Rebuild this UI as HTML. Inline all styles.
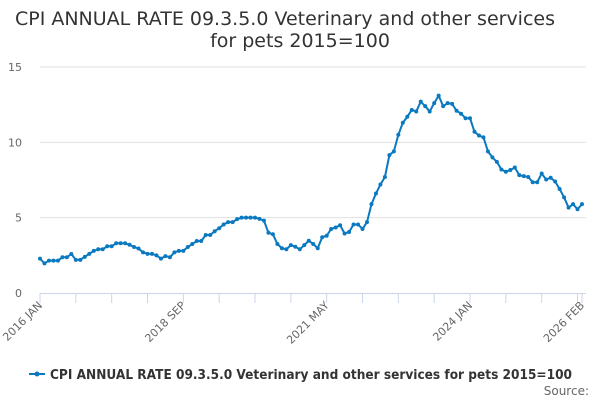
<!DOCTYPE html>
<html><head><meta charset="utf-8"><style>
body{margin:0;background:#fff;width:600px;height:400px;overflow:hidden;font-family:"DejaVu Sans","Liberation Sans",sans-serif}
</style></head><body>
<svg id="chart" width="600" height="400" xmlns="http://www.w3.org/2000/svg" font-family="DejaVu Sans, Liberation Sans, sans-serif">
<text x="285" y="25" text-anchor="middle" font-size="19" fill="#333" textLength="540" lengthAdjust="spacingAndGlyphs">CPI ANNUAL RATE 09.3.5.0 Veterinary and other services</text>
<text x="300" y="47" text-anchor="middle" font-size="19" fill="#333">for pets 2015=100</text>
<g id="grid"></g><g id="xaxis"></g><g id="series"></g>
<g>
<line x1="29" y1="374" x2="45" y2="374" stroke="#0a79bf" stroke-width="2"/>
<circle cx="37" cy="374" r="2.5" fill="#0a79bf"/>
<text x="50" y="379" font-size="13" font-weight="bold" fill="#333" textLength="522" lengthAdjust="spacingAndGlyphs">CPI ANNUAL RATE 09.3.5.0 Veterinary and other services for pets 2015=100</text>
</g>
<text x="589" y="395" text-anchor="end" font-size="12" fill="#666">Source:</text>
</svg>
<script>
const yTicks=[0,5,10,15];
const xTickLabels=["2016 JAN","2018 SEP","2021 MAY","2024 JAN","2026 FEB"];
const xTickMonths=[0,32,64,96,121];
const values=[2.28,1.97,2.15,2.15,2.15,2.37,2.37,2.59,2.2,2.2,2.4,2.6,2.8,2.9,2.9,3.1,3.1,3.3,3.3,3.3,3.2,3.05,2.95,2.7,2.6,2.6,2.5,2.28,2.45,2.37,2.7,2.8,2.8,3.05,3.25,3.45,3.45,3.85,3.85,4.1,4.3,4.55,4.7,4.7,4.9,5.0,5.0,5.0,5.0,4.92,4.8,4.0,3.9,3.25,2.97,2.9,3.18,3.07,2.9,3.18,3.47,3.25,2.97,3.7,3.8,4.25,4.35,4.5,3.95,4.05,4.55,4.55,4.25,4.7,5.9,6.6,7.2,7.7,9.15,9.4,10.5,11.3,11.7,12.15,12.05,12.7,12.4,12.05,12.6,13.1,12.4,12.6,12.55,12.1,11.9,11.6,11.6,10.7,10.45,10.33,9.4,9.0,8.7,8.2,8.05,8.16,8.33,7.82,7.76,7.7,7.35,7.35,7.93,7.53,7.65,7.4,6.9,6.35,5.67,5.9,5.56,5.9];
const X0=40,X1=582,Y0=293,Y15=67;
const xs=m=>X0+(X1-X0)*m/(values.length-1);
const ys=v=>Y0-(Y0-Y15)*v/15;
const NS="http://www.w3.org/2000/svg";
function mk(t,a,p){const e=document.createElementNS(NS,t);for(const k in a)e.setAttribute(k,a[k]);p.appendChild(e);return e;}
const grid=document.getElementById('grid'),xa=document.getElementById('xaxis'),se=document.getElementById('series');
yTicks.forEach(v=>{
  if(v>0){const l=mk('line',{x1:X0,x2:586,y1:ys(v),y2:ys(v),stroke:'#e0e0e0','stroke-width':1},grid);
  
  }
  const t=mk('text',{x:22,y:ys(v)+4,'text-anchor':'end','font-size':11,fill:'#666'},grid);t.textContent=v;
  
  
});
const ax=mk('line',{x1:X0,x2:586,y1:Y0+0.5,y2:Y0+0.5,stroke:'#ccd6eb','stroke-width':1},xa);


for(let m=0;m<=121;m+=8){mk('line',{x1:xs(m),x2:xs(m),y1:Y0,y2:Y0+10,stroke:'#ccd6eb'},xa);}
mk('line',{x1:xs(121),x2:xs(121),y1:Y0,y2:Y0+10,stroke:'#ccd6eb'},xa);
xTickLabels.forEach((s,i)=>{const x=xs(xTickMonths[i])+3,y=Y0+13;
  const t=mk('text',{x:x,y:y,'text-anchor':'end','font-size':11,fill:'#666',transform:`rotate(-45 ${x} ${y})`},xa);t.textContent=s;
  
  });
const line=mk('polyline',{points:values.map((v,i)=>xs(i)+','+ys(v)).join(' '),fill:'none',stroke:'#0a79bf','stroke-width':2,'stroke-linejoin':'round'},se);


values.forEach((v,i)=>{const c=mk('circle',{cx:xs(i),cy:ys(v),r:2,fill:'#0a79bf'},se);
  
  });
</script>
</body></html>
